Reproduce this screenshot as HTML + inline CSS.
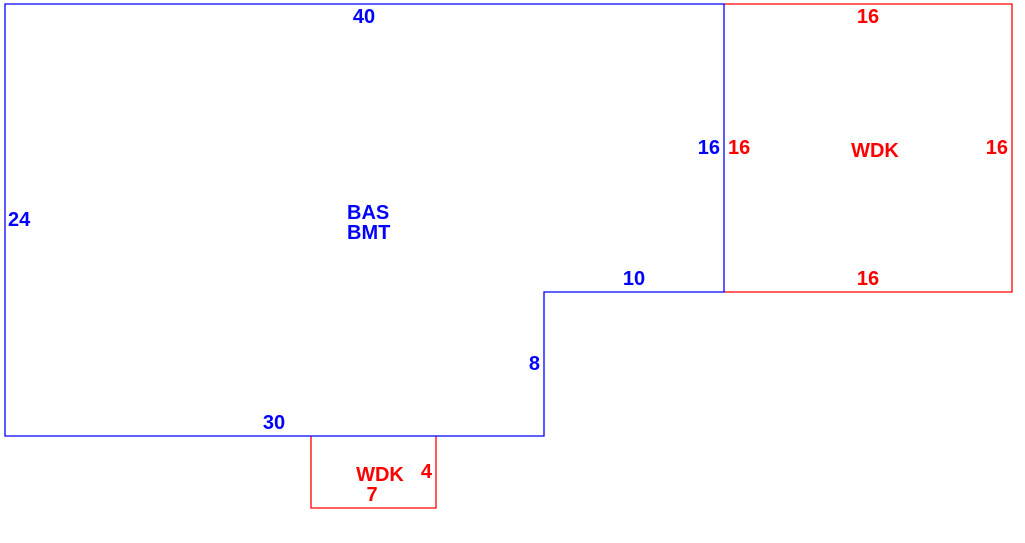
<!DOCTYPE html>
<html><head><meta charset="utf-8"><style>
html,body{margin:0;padding:0;background:#fff;}
svg{display:block;}
text{font-family:"Liberation Sans",Arial,sans-serif;font-weight:bold;font-size:20px;}
.b{fill:#0000ff}.r{fill:#ff0000}
</style></head><body>
<svg width="1025" height="543" viewBox="0 0 1025 543">
<polyline points="724,4 1012,4 1012,292 724,292" fill="none" stroke="#ff0000" stroke-width="1.3"/>
<polyline points="311,436 311,508 436,508 436,436" fill="none" stroke="#ff0000" stroke-width="1.3"/>
<polygon points="5,4 724,4 724,292 544,292 544,436 5,436" fill="none" stroke="#0000ff" stroke-width="1.3"/>
<text class="b" x="364" y="23" text-anchor="middle">40</text>
<text class="b" x="8" y="226">24</text>
<text class="b" x="347" y="219">BAS</text>
<text class="b" x="347" y="239">BMT</text>
<text class="b" x="720" y="154" text-anchor="end">16</text>
<text class="b" x="634" y="285" text-anchor="middle">10</text>
<text class="b" x="540" y="370" text-anchor="end">8</text>
<text class="b" x="274" y="429" text-anchor="middle">30</text>
<text class="r" x="868" y="23" text-anchor="middle">16</text>
<text class="r" x="728" y="154">16</text>
<text class="r" x="875" y="157" text-anchor="middle">WDK</text>
<text class="r" x="1008" y="154" text-anchor="end">16</text>
<text class="r" x="868" y="285" text-anchor="middle">16</text>
<text class="r" x="380" y="481" text-anchor="middle">WDK</text>
<text class="r" x="432" y="478" text-anchor="end">4</text>
<text class="r" x="372" y="501" text-anchor="middle">7</text>
</svg>
</body></html>
